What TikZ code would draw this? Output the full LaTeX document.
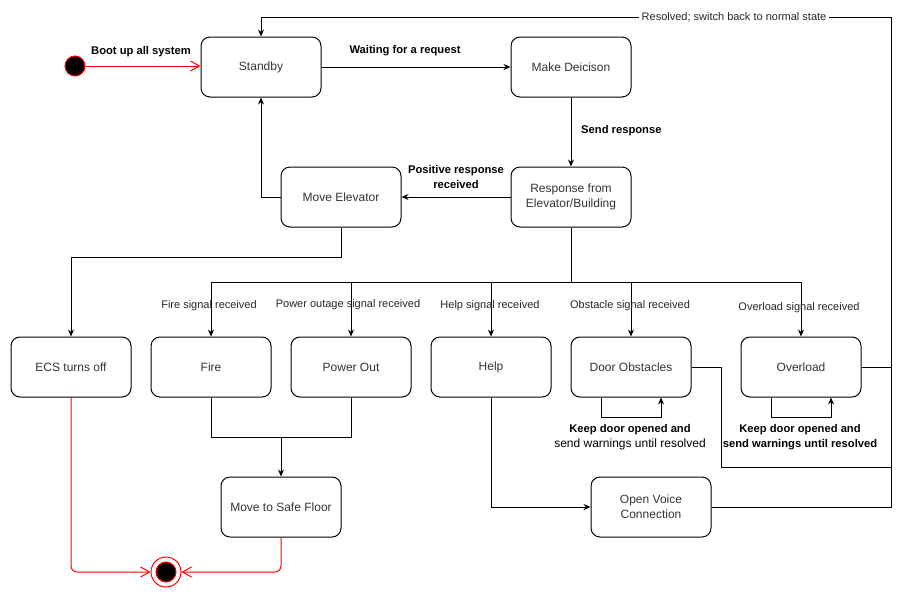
\documentclass[tikz,border=0pt]{standalone}
\usepackage{fontspec}
\setmainfont{Liberation Sans}
\usetikzlibrary{arrows.meta,calc}
\begin{document}
\begin{tikzpicture}[x=1pt,y=-1pt,
  state/.style={draw, line width=1pt, rounded corners=9pt, minimum width=120pt,
    minimum height=60pt, align=center, font=\fontsize{12}{15}\selectfont, text=black!80},
  flow/.style={draw, line width=1pt, -{Stealth[length=7pt,width=6pt]}},
  plain/.style={draw, line width=1pt},
  redflow/.style={draw=red, line width=1pt, -{Straight Barb[length=9pt,width=10pt]}},
  elabel/.style={font=\fontsize{11.2}{15}\selectfont\bfseries, align=center, inner sep=1pt},
  slabel/.style={font=\fontsize{11}{13}\selectfont, text=black!85, inner sep=1pt},
  pseudo/.style={circle, line width=1pt, inner sep=0pt},
]
\useasboundingbox (0,0) rectangle (909,598);

% states
\node[state] (standby) at (261,67)  {Standby};
\node[state] (decide)  at (571,67)  {Make Deicison};
\node[state] (resp)    at (571,197) {Response from\\Elevator/Building};
\node[state] (move)    at (341,197) {Move Elevator};
\node[state] (ecs)     at (71,367)  {ECS turns off};
\node[state] (fire)    at (211,367) {Fire};
\node[state] (pout)    at (351,367) {Power Out};
\node[state] (help)    at (491,367) {Help};
\node[state] (door)    at (631,367) {Door Obstacles};
\node[state] (over)    at (801,367) {Overload};
\node[state] (safe)    at (281,507) {Move to Safe Floor};
\node[state] (voice)   at (651,507) {Open Voice\\Connection};

% initial and final pseudo states
\node[pseudo, fill=black, draw=red, minimum size=20pt] (start) at (75,66) {};
\node[pseudo, draw=red, minimum size=30pt] (end) at (166,572) {};
\node[pseudo, fill=black, draw=red, minimum size=20pt] (endcore) at (166,572) {};

% main cycle
\draw[redflow] (start.east) -- (start.east -| standby.west);
\node[elabel] (lboot) at (141,52) {Boot up all system};
\draw[flow] (standby) -- (decide);
\node[elabel] (lwait) at (405,51) {Waiting for a request};
\draw[flow] (decide) -- (resp);
\node[elabel, anchor=west] (lsend) at (580,131) {Send response};
\draw[flow] (resp) -- (move);
\node[elabel] (lpos) at (456,177) {Positive response\\received};
\draw[flow] (move.west) -| (standby.south);
\draw[flow] (move.south) -- ++(0,30) -| (ecs.north);

% signal branches
\coordinate (bus) at (571,282);
\draw[plain] (resp.south) -- (bus);
\draw[plain] (fire.north |- bus) -- (over.north |- bus);
\foreach \n in {fire,pout,help,door,over}
  \draw[flow] (\n.north |- bus) -- (\n.north);
\node[slabel] (lfire) at (209,306) {Fire signal received};
\node[slabel] (lpout) at (348,305) {Power outage signal received};
\node[slabel] (lhelp) at (490,306) {Help signal received};
\node[slabel] (lobst) at (630,306) {Obstacle signal received};
\node[slabel] (lover) at (799,308) {Overload signal received};

% fire / power out lead to the safe floor
\coordinate (merge) at (281,437);
\draw[plain] (fire.south) |- (merge) -| (pout.south);
\draw[flow] (merge) -- (safe.north);

% help opens the voice line
\draw[flow] (help.south) |- (voice.west);

% self loops while the fault persists
\draw[flow] ([xshift=-30pt]door.south) -- ++(0,20) -| ([xshift=30pt]door.south);
\draw[flow] ([xshift=-30pt]over.south) -- ++(0,20) -| ([xshift=30pt]over.south);
\node[align=center, font=\fontsize{11.2}{15}\selectfont, inner sep=1pt] (ldoor) at (630,437)
  {\textbf{Keep door opened and}\\{\fontsize{12}{15}\selectfont send warnings until resolved}};
\node[elabel] (lkeep) at (800,437) {Keep door opened and\\send warnings until resolved};

% return to standby once resolved
\coordinate (rtop) at (891,17);
\coordinate (djog) at (721,467);
\draw[plain] (door.east) -| (djog) -- (djog -| rtop);
\draw[plain] (over.east) -- (over.east -| rtop);
\draw[flow] (voice.east) -| (rtop) -| (standby.north);
\node[slabel, fill=white, inner sep=3pt] (lres) at (734,17) {Resolved; switch back to normal state};

% shutdown paths
\draw[redflow, rounded corners=6pt] (ecs.south) |- (end.west);
\draw[redflow, rounded corners=6pt] (safe.south) |- (end.east);
\end{tikzpicture}
\end{document}
